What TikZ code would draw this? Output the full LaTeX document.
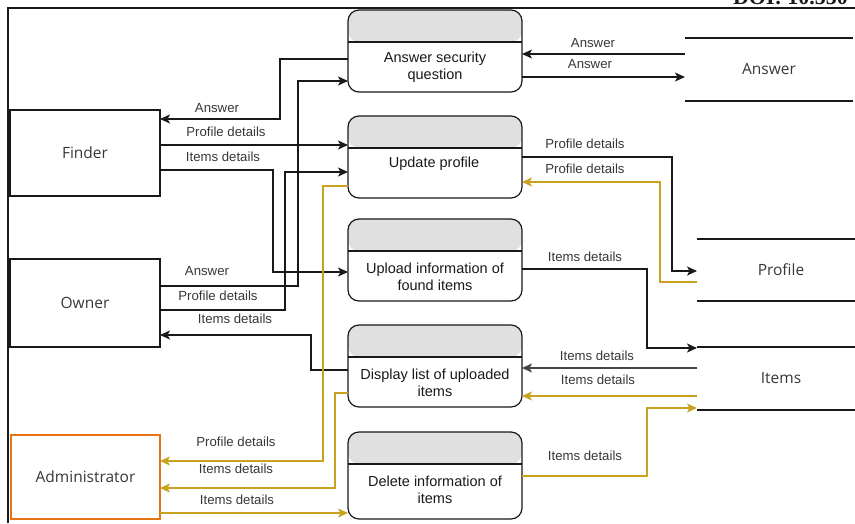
\documentclass[tikz,border=0pt]{standalone}
\usepackage{fontspec}
\setmainfont{Liberation Sans}
\newfontfamily\entfont{Open Sans}
\newfontfamily\doifont{Liberation Serif}
\usetikzlibrary{arrows.meta}
\definecolor{gold}{RGB}{200,162,30}
\definecolor{orng}{RGB}{230,115,20}
\definecolor{hdr}{RGB}{224,224,224}
\definecolor{ink}{RGB}{25,25,25}
\definecolor{lbl}{RGB}{55,55,55}
\definecolor{dgray}{RGB}{70,70,70}

\begin{document}
\begin{tikzpicture}[x=1pt,y=-1pt,
  every node/.style={inner sep=0pt, outer sep=0pt},
  entity/.style={draw=ink, line width=1.1pt, minimum width=150pt, minimum height=86pt,
    font=\entfont\fontsize{15.5}{18}\selectfont, text=lbl},
  proc/.style={draw=ink, line width=1.2pt, rounded corners=11pt, minimum width=174pt, minimum height=82pt,
    path picture={
      \fill[hdr] (path picture bounding box.north west) rectangle ([yshift=-32pt]path picture bounding box.north east);
      \draw[ink, line width=1.2pt] ([yshift=-32pt]path picture bounding box.north west) -- ([yshift=-32pt]path picture bounding box.north east);}},
  ptext/.style={align=center, text=ink, font=\fontsize{14.5}{17}\selectfont},
  store/.style={minimum width=168pt, minimum height=63pt, text=lbl, font=\entfont\fontsize{15.5}{18}\selectfont},
  storeline/.style={draw=ink, line width=2pt},
  tip/.style={-{Stealth[length=10pt, width=9pt, inset=2.5pt]}},
  flow/.style={tip, draw=ink, line width=1.1pt},
  gflow/.style={tip, draw=gold, line width=1.1pt},
  lab/.style={text=lbl, font=\fontsize{13.2}{15}\selectfont},
]
\useasboundingbox (0,0) rectangle (855,523);

% page frame and running header
\begin{scope}
  \clip (0,0) rectangle (855,523);
  \draw[ink, line width=1.3pt] (8,523) -- (8,8) -- (855,8);
  \node[anchor=base west, font=\doifont\bfseries\fontsize{22}{24}\selectfont, text=ink] (doi) at (733,4) {DOI: 10.550};
\end{scope}

% external entities
\node[entity] (finder) at (85,153) {Finder};
\node[entity, minimum height=88pt] (owner) at (85,303) {Owner};
\node[entity, draw=orng, minimum width=149pt, minimum height=84pt] (admin) at (85.5,477) {Administrator};

% processes
\node[proc] (p1) at (435,51) {};
\node[proc] (p2) at (435,157) {};
\node[proc] (p3) at (435,260) {};
\node[proc] (p4) at (435,366) {};
\node[proc, minimum height=87pt] (p5) at (435,475.5) {};
\node[ptext] (p1t) at (435,67) {Answer security\\question};
\node[ptext] (p2t) at (434,164) {Update profile};
\node[ptext] (p3t) at (435,277) {Upload information of\\found items};
\node[ptext] (p4t) at (435,383) {Display list of uploaded\\items};
\node[ptext] (p5t) at (435,490) {Delete information of\\items};

% data stores
\begin{scope}
  \clip (0,0) rectangle (855,523);
  \node[store] (sAns) at (769,69.5) {Answer};
  \node[store, minimum height=62pt] (sProf) at (781,270) {Profile};
  \node[store] (sItems) at (781,378.5) {Items};
  \foreach \s in {sAns,sProf,sItems}{
    \draw[storeline] (\s.north west) -- (\s.north east);
    \draw[storeline] (\s.south west) -- (\s.south east);
  }
\end{scope}

% data flows
\draw[flow] (sAns.west |- 0,54) -- (p1.east |- 0,54);
\draw[flow] (p1.east |- 0,77) -- (sAns.west |- 0,77);
\draw[flow] (p1.west |- 0,59) -| (280,119) -- (finder.east |- 0,119);
\draw[flow] (finder.east |- 0,145) -- (p2.west |- 0,145);
\draw[flow] (finder.east |- 0,170) -| (273,272) -- (p3.west |- 0,272);
\draw[flow] (owner.east |- 0,286) -| (298,81) -- (p1.west |- 0,81);
\draw[flow] (owner.east |- 0,310) -| (285,172) -- (p2.west |- 0,172);
\draw[flow] (p4.west |- 0,370) -| (311,335) -- (owner.east |- 0,335);
\draw[flow] (p3.east |- 0,269) -| (647,348) -- (sItems.west |- 0,348);
\draw[flow] (p2.east |- 0,157) -| (672,271) -- (sProf.west |- 0,271);
\draw[gflow] (sProf.west |- 0,282) -| (660,182) -- (p2.east |- 0,182);
\draw[flow, draw=dgray] (sItems.west |- 0,368) -- (p4.east |- 0,368);
\draw[gflow] (sItems.west |- 0,396) -- (p4.east |- 0,396);
\draw[gflow] (p5.east |- 0,476) -| (647,408) -- (sItems.west |- 0,408);
\draw[gflow] (p2.west |- 0,186) -| (323,461) -- (admin.east |- 0,461);
\draw[gflow] (p4.west |- 0,393) -| (335,488) -- (admin.east |- 0,488);
\draw[gflow] (admin.east |- 0,513) -- (p5.west |- 0,513);

% flow labels
\node[lab] (l1) at (593,43) {Answer};
\node[lab] (l2) at (590,64) {Answer};
\node[lab] (l3) at (217,108) {Answer};
\node[lab] (l4) at (226,132) {Profile details};
\node[lab] (l5) at (223,157) {Items details};
\node[lab] (l6) at (207,271) {Answer};
\node[lab] (l7) at (218,296) {Profile details};
\node[lab] (l8) at (235,319) {Items details};
\node[lab] (l9) at (585,144) {Profile details};
\node[lab] (l10) at (585,169) {Profile details};
\node[lab] (l11) at (585,257) {Items details};
\node[lab] (l12) at (597,356) {Items details};
\node[lab] (l13) at (598,380) {Items details};
\node[lab] (l14) at (585,456) {Items details};
\node[lab] (l15) at (236,442) {Profile details};
\node[lab] (l16) at (236,469) {Items details};
\node[lab] (l17) at (237,500) {Items details};
\end{tikzpicture}
\end{document}
